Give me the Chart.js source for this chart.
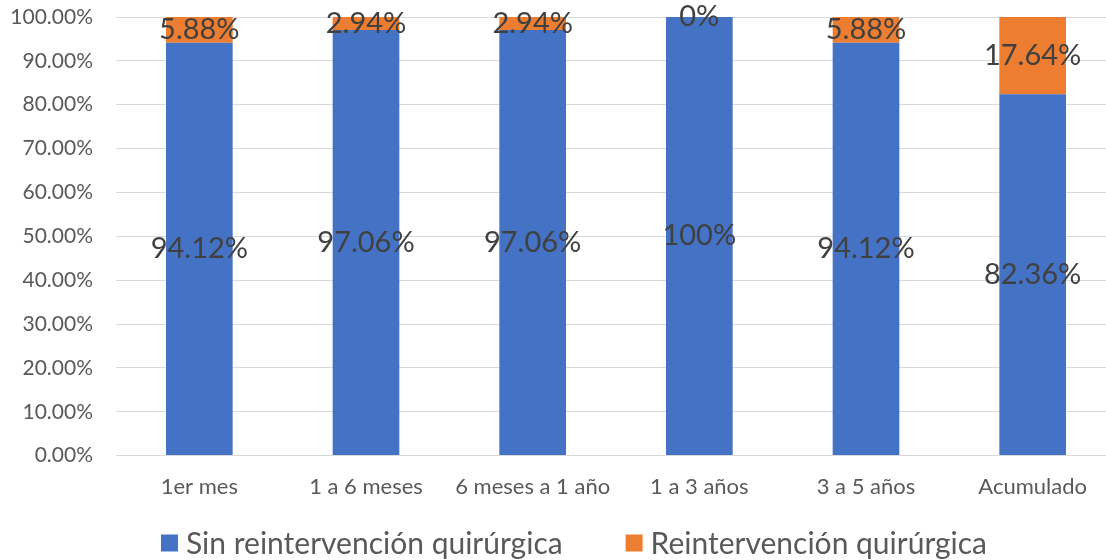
<!DOCTYPE html>
<html lang="es">
<head>
    <meta charset="UTF-8">
    <title>Reintervención quirúrgica</title>
    <script src="https://cdn.jsdelivr.net/npm/chart.js"></script>
    <style>
        body { margin: 0; overflow: hidden; background: #fff; }
        .chart-container { width: 1148px; height: 560px; }
    </style>
</head>
<body>
    <div class="chart-container">
        <canvas id="reintChart"></canvas>
    </div>

    <script>
        const periodos = ['1er mes', '1 a 6 meses', '6 meses a 1 año', '1 a 3 años', '3 a 5 años', 'Acumulado'];
        const sinReint = [94.12, 97.06, 97.06, 100, 94.12, 82.36];
        const conReint = [5.88, 2.94, 2.94, 0, 5.88, 17.64];
        const ticksY = [0, 10, 20, 30, 40, 50, 60, 70, 80, 90, 100];

        const FONT = 'Lato, "Open Sans", sans-serif';

        // etiquetas de valor centradas en cada segmento
        const valueLabels = {
            id: 'valueLabels',
            afterDatasetsDraw(chart) {
                const ctx = chart.ctx;
                ctx.save();
                ctx.font = '29px ' + FONT;
                ctx.fillStyle = '#404040';
                ctx.textAlign = 'center';
                ctx.textBaseline = 'middle';
                chart.data.datasets.forEach((ds, i) => {
                    const meta = chart.getDatasetMeta(i);
                    meta.data.forEach((bar, j) => {
                        const p = bar.getCenterPoint();
                        ctx.fillText(ds.data[j] + '%', p.x, p.y);
                    });
                });
                ctx.restore();
            }
        };

        // leyenda inferior: cuadro + texto, centrada en el lienzo
        const bottomLegend = {
            id: 'bottomLegend',
            afterDraw(chart) {
                const ctx = chart.ctx;
                const box = 17, gapText = 8, gapItem = 63;
                ctx.save();
                ctx.font = '30px ' + FONT;
                ctx.textBaseline = 'middle';
                const items = chart.data.datasets.map(ds => ({
                    text: ds.label,
                    color: ds.backgroundColor,
                    w: ctx.measureText(ds.label).width
                }));
                const total = items.reduce((s, it) => s + box + gapText + it.w, 0) + gapItem * (items.length - 1);
                let x = chart.width / 2 - total / 2;
                const y = chart.height - 17;
                items.forEach(it => {
                    ctx.fillStyle = it.color;
                    ctx.fillRect(x, y - box / 2, box, box);
                    x += box + gapText;
                    ctx.fillStyle = '#595959';
                    ctx.fillText(it.text, x, y + 1);
                    x += it.w + gapItem;
                });
                ctx.restore();
            }
        };

        new Chart(document.getElementById('reintChart').getContext('2d'), {
            type: 'bar',
            data: {
                labels: periodos,
                datasets: [{
                    label: 'Sin reintervención quirúrgica',
                    data: sinReint,
                    backgroundColor: '#4472C4',
                    barPercentage: 0.4,
                    categoryPercentage: 1
                }, {
                    label: 'Reintervención quirúrgica',
                    data: conReint,
                    backgroundColor: '#ED7D31',
                    barPercentage: 0.4,
                    categoryPercentage: 1
                }]
            },
            options: {
                responsive: true,
                maintainAspectRatio: false,
                animation: false,
                layout: { padding: { left: 0, right: 32, top: 17, bottom: 50 } },
                plugins: {
                    legend: { display: false },
                    tooltip: { enabled: false }
                },
                scales: {
                    x: {
                        stacked: true,
                        grid: { display: false },
                        border: { color: '#D9D9D9' },
                        ticks: {
                            font: { family: FONT, size: 22 },
                            color: '#595959',
                            padding: 10,
                            maxRotation: 0
                        }
                    },
                    y: {
                        stacked: true,
                        min: 0,
                        max: 100,
                        afterBuildTicks: s => { s.ticks = ticksY.map(v => ({ value: v })); },
                        afterFit: s => {
                            s.width = 116;
                            s.paddingTop = 0;
                            s.paddingBottom = 0;
                        },
                        grid: { color: '#D9D9D9', drawTicks: false },
                        border: { display: false },
                        ticks: {
                            font: { family: FONT, size: 21 },
                            color: '#595959',
                            padding: 23,
                            callback: v => v.toFixed(2) + '%'
                        }
                    }
                }
            },
            plugins: [valueLabels, bottomLegend]
        });
    </script>
</body>
</html>
